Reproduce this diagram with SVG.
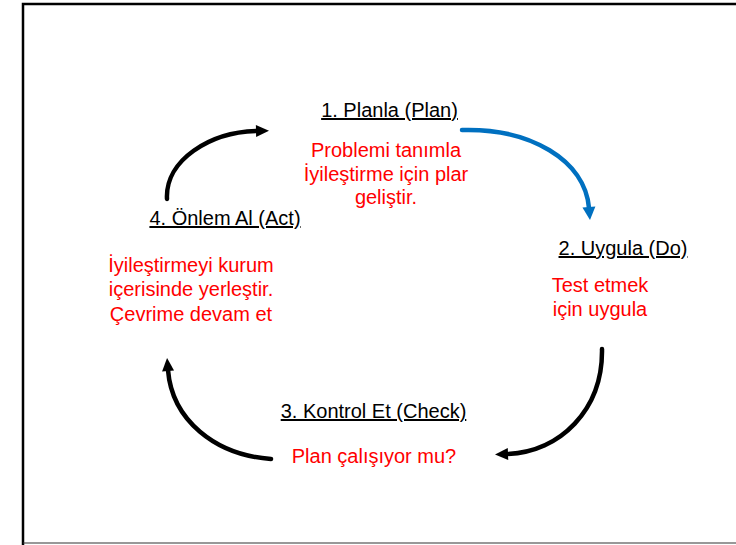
<svg xmlns="http://www.w3.org/2000/svg" width="736" height="545" viewBox="0 0 736 545">
<defs>
<style>
.lbl{font-family:"Liberation Sans",Arial,sans-serif;font-size:20px;fill:#000;text-anchor:middle;text-decoration:underline}
.red{font-family:"Liberation Sans",Arial,sans-serif;font-size:20px;fill:#FF0000;text-anchor:middle}
.conn{fill:none;stroke-width:4.5;stroke-linecap:round}
</style>
<marker id="ahK" markerUnits="userSpaceOnUse" markerWidth="16" markerHeight="16" refX="0" refY="0" viewBox="0 -8 16 16" orient="auto" overflow="visible">
<path d="M-1,-6 L12,0 L-1,6 z" fill="#000"/>
</marker>
<marker id="ahB" markerUnits="userSpaceOnUse" markerWidth="16" markerHeight="16" refX="0" refY="0" viewBox="0 -8 16 16" orient="auto" overflow="visible">
<path d="M-1,-6.5 L12,0 L-1,6.5 z" fill="#0070C0"/>
</marker>
</defs>
<rect x="0" y="0" width="736" height="545" fill="#fff"/>
<path d="M23,545 L23,4 L736,4" fill="none" stroke="#000" stroke-width="2.5"/>
<line x1="23" y1="543" x2="736" y2="543" stroke="#333" stroke-width="1.2"/>
<g id="connectors">
<path class="conn" stroke="#0070C0" d="M462,130 C530,128 585,160 589,208" marker-end="url(#ahB)"/>
<path class="conn" stroke="#000" d="M602,349 C603,410 560,452 507,454" marker-end="url(#ahK)"/>
<path class="conn" stroke="#000" d="M271,459 C215,455 172,420 168,370" marker-end="url(#ahK)"/>
<path class="conn" stroke="#000" d="M167,199 C165,160 210,132 257,131" marker-end="url(#ahK)"/>
</g>
<g id="plan">
<text class="lbl" x="389.5" y="117">1. Planla (Plan)</text>
<text class="red" x="386" y="157">Problemi tanımla</text>
<text class="red" x="386" y="180.5">İyileştirme için plar</text>
<text class="red" x="386" y="204">geliştir.</text>
</g>
<g id="do">
<text class="lbl" x="623" y="255">2. Uygula (Do)</text>
<text class="red" x="600" y="292">Test etmek</text>
<text class="red" x="600" y="316">için uygula</text>
</g>
<g id="check">
<text class="lbl" x="373.5" y="418">3. Kontrol Et (Check)</text>
<text class="red" x="374" y="463">Plan çalışıyor mu?</text>
</g>
<g id="act">
<text class="lbl" x="225" y="225">4. Önlem Al (Act)</text>
<text class="red" x="191" y="272">İyileştirmeyi kurum</text>
<text class="red" x="191" y="296">içerisinde yerleştir.</text>
<text class="red" x="191" y="321">Çevrime devam et</text>
</g>
</svg>
